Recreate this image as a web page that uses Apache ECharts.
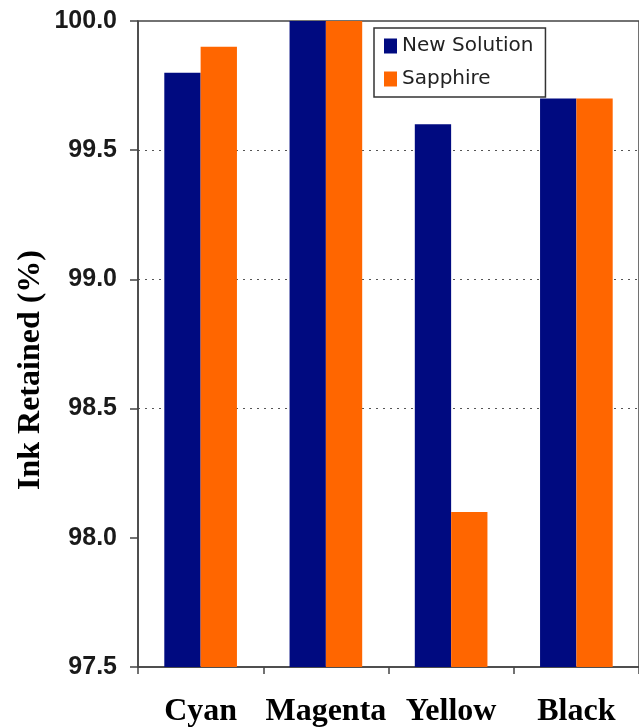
<!DOCTYPE html>
<html>
<head>
<meta charset="utf-8">
<script src="https://cdn.jsdelivr.net/npm/echarts@6/dist/echarts.min.js"></script>
<style>
html,body{margin:0;padding:0;background:#fff;}
#chart{width:639px;height:728px;}
</style>
</head>
<body>
<div id="chart"></div>
<script>
var categories = ['Cyan', 'Magenta', 'Yellow', 'Black'];
var newSolution = [99.8, 100.0, 99.6, 99.7];
var sapphire = [99.9, 100.0, 98.1, 99.7];
var seriesNames = ['New Solution', 'Sapphire'];
var yTitle = 'Ink Retained (%)';
var yMin = 97.5, yMax = 100.0, yStep = 0.5;

var chart = echarts.init(document.getElementById('chart'), null, {renderer: 'canvas'});
chart.setOption({
  animation: false,
  backgroundColor: '#ffffff',
  grid: {
    left: 138, top: 21, width: 514, bottom: 61,
    show: true, borderColor: '#444', borderWidth: 1.5, backgroundColor: 'transparent'
  },
  legend: {
    orient: 'vertical',
    left: 374, top: 28,
    padding: [8, 12, 8, 10],
    borderColor: '#333', borderWidth: 1.5,
    backgroundColor: '#fff',
    itemWidth: 13, itemHeight: 15, itemGap: 13,
    icon: 'rect',
    textStyle: {fontFamily: 'DejaVu Sans', fontSize: 20, color: '#222', lineHeight: 20},
    data: seriesNames
  },
  xAxis: {
    type: 'category',
    data: categories,
    axisLine: {lineStyle: {color: '#444', width: 1.5}},
    axisTick: {show: true, interval: 0, length: 7, alignWithLabel: false, lineStyle: {color: '#444', width: 1.5}},
    axisLabel: {
      interval: 0,
      hideOverlap: false,
      margin: 29,
      fontFamily: 'Liberation Serif', fontWeight: 'bold', fontSize: 32, color: '#000'
    }
  },
  yAxis: {
    type: 'value',
    min: yMin, max: yMax, interval: yStep,
    axisLine: {show: true, lineStyle: {color: '#444', width: 1.5}},
    axisTick: {show: true, length: 8, lineStyle: {color: '#444', width: 1.5}},
    axisLabel: {
      margin: 21,
      fontFamily: 'Liberation Sans', fontWeight: 'bold', fontSize: 25, color: '#1a1a1a',
      formatter: function (v) { return v.toFixed(1); }
    },
    splitLine: {
      show: true,
      lineStyle: {
        color: ['rgba(0,0,0,0)', 'rgba(0,0,0,0)', '#555', '#555', '#555', 'rgba(0,0,0,0)'],
        width: 1.2, type: [2, 5]
      }
    }
  },
  graphic: [{
    type: 'text',
    x: 31, y: 370,
    rotation: Math.PI / 2,
    style: {
      text: yTitle,
      font: 'bold 32px "Liberation Serif"',
      fill: '#000',
      align: 'center',
      verticalAlign: 'middle'
    }
  }],
  series: [
    {
      name: seriesNames[0], type: 'bar', data: newSolution,
      barGap: '0%', barCategoryGap: '42%',
      itemStyle: {color: '#000a80'}
    },
    {
      name: seriesNames[1], type: 'bar', data: sapphire,
      barGap: '0%', barCategoryGap: '42%',
      itemStyle: {color: '#ff6600'}
    }
  ]
});
</script>
</body>
</html>
